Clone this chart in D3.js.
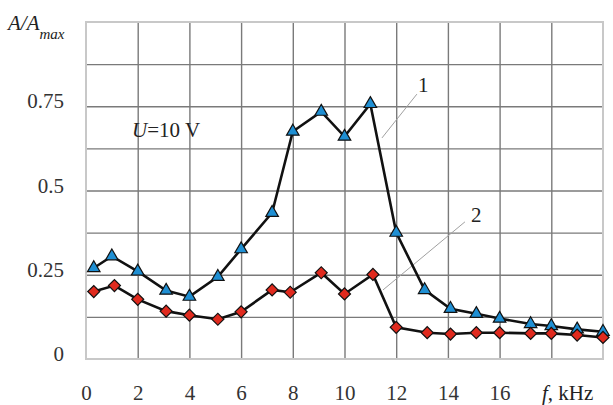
<!DOCTYPE html>
<html>
<head>
<meta charset="utf-8">
<script src="https://cdn.jsdelivr.net/npm/d3@7"></script>
<style>
  body { margin: 0; background: #fff; }
  svg { display: block; font-family: "Liberation Serif", "Times New Roman", serif; }
</style>
</head>
<body>
<svg></svg>
<script>
let w = 613;
let h = 405;

// Data
const freq1 = [0.3, 1, 2, 3.1, 4, 5.1, 6, 7.2, 8, 9.1, 10, 11, 12, 13.1, 14.1, 15.1, 16, 17.2, 18, 19, 20];
const amp1  = [0.27, 0.305, 0.26, 0.203, 0.185, 0.244, 0.326, 0.434, 0.675, 0.734, 0.66, 0.757, 0.375,
               0.205, 0.149, 0.134, 0.12, 0.104, 0.098, 0.088, 0.081];
const freq2 = [0.3, 1.1, 2, 3.1, 4, 5.1, 6, 7.2, 7.9, 9.1, 10, 11.1, 12, 13.2, 14.1, 15.1, 16, 17.2, 18, 19, 20];
const amp2  = [0.2, 0.218, 0.177, 0.142, 0.13, 0.118, 0.14, 0.205, 0.198, 0.256, 0.193, 0.251, 0.094,
               0.078, 0.074, 0.078, 0.078, 0.076, 0.076, 0.071, 0.064];

const xTicks = [0, 2, 4, 6, 8, 10, 12, 14, 16];
const yTicks = [0, 0.25, 0.5, 0.75];
const xGrid = d3.range(0, 21, 2);
const yGrid = d3.range(0, 1.0001, 0.125);

const svg = d3.select('svg')
  .attr('width', w)
  .attr('height', h)

// Scales
const xScale = d3.scaleLinear().domain([0, 20]).range([86, 603])
const yScale = d3.scaleLinear().domain([0, 1]).range([359, 22])

// Grid
svg.append('g')
  .attr('transform', 'translate(0,359)')
  .call(d3.axisBottom(xScale).tickValues(xGrid.slice(1, -1)).tickSize(-337).tickFormat(''))
  .call(g => g.select('.domain').remove())
  .selectAll('line').attr('stroke', '#7a7a7a').attr('stroke-width', 1.4)

svg.append('g')
  .attr('transform', 'translate(86,0)')
  .call(d3.axisLeft(yScale).tickValues(yGrid.slice(1, -1)).tickSize(-517).tickFormat(''))
  .call(g => g.select('.domain').remove())
  .selectAll('line').attr('stroke', '#7a7a7a').attr('stroke-width', 1.4)

svg.append('rect')
  .attr('x', xScale(0)).attr('y', yScale(1))
  .attr('width', xScale(20) - xScale(0)).attr('height', yScale(0) - yScale(1))
  .attr('fill', 'none').attr('stroke', '#c8c8c8').attr('stroke-width', 2)

// Tick labels
const xAxis = svg.append('g')
  .attr('transform', 'translate(0,400)')
  .call(d3.axisBottom(xScale).tickValues(xTicks).tickSize(0).tickPadding(0).tickFormat(d3.format('d')))
  .attr('font-family', '"Liberation Serif", serif')
  .attr('font-size', 21)
xAxis.select('.domain').remove()
xAxis.selectAll('text')
  .attr('dy', 0).attr('y', 0)
  .attr('fill', '#333')

const yAxis = svg.append('g')
  .attr('transform', 'translate(64,0)')
  .call(d3.axisLeft(yScale).tickValues(yTicks).tickSize(0).tickPadding(0)
    .tickFormat(d => d === 0 ? '0' : String(d)))
  .attr('font-family', '"Liberation Serif", serif')
  .attr('font-size', 21)
yAxis.select('.domain').remove()
yAxis.selectAll('text')
  .attr('dy', '0.32em').attr('y', -5)
  .attr('fill', '#333')

// Axis titles
const yTitle = svg.append('text').attr('x', 8).attr('y', 30)
  .attr('font-size', 21).attr('font-style', 'italic').attr('fill', '#222')
yTitle.append('tspan').text('A/A')
yTitle.append('tspan').attr('dy', 9).attr('font-size', 15).text('max')

const xTitle = svg.append('text').attr('x', 542).attr('y', 400)
  .attr('font-size', 21).attr('fill', '#222')
xTitle.append('tspan').attr('font-style', 'italic').text('f')
xTitle.append('tspan').text(', kHz')

const uText = svg.append('text').attr('x', xScale(1.78)).attr('y', yScale(0.659))
  .attr('font-size', 21).attr('fill', '#222')
uText.append('tspan').attr('font-style', 'italic').text('U')
uText.append('tspan').text('=10 V')

// Leader lines and curve labels
svg.append('line')
  .attr('x1', xScale(12.8)).attr('y1', yScale(0.786))
  .attr('x2', xScale(11.45)).attr('y2', yScale(0.656))
  .attr('stroke', '#a0a0a0').attr('stroke-width', 1)
svg.append('text').attr('x', xScale(13.05)).attr('y', yScale(0.813)).attr('dy', '0.35em')
  .attr('text-anchor', 'middle').attr('font-size', 21).attr('fill', '#222').text('1')

svg.append('line')
  .attr('x1', xScale(14.66)).attr('y1', yScale(0.407))
  .attr('x2', xScale(11.49)).attr('y2', yScale(0.205))
  .attr('stroke', '#a0a0a0').attr('stroke-width', 1)
svg.append('text').attr('x', xScale(15.1)).attr('y', yScale(0.427)).attr('dy', '0.35em')
  .attr('text-anchor', 'middle').attr('font-size', 21).attr('fill', '#222').text('2')

// Curves
const series1 = freq1.map((f, i) => [f, amp1[i]])
const series2 = freq2.map((f, i) => [f, amp2[i]])

const line = d3.line().x(d => xScale(d[0])).y(d => yScale(d[1]))

svg.append('path').datum(series1)
  .attr('d', line).attr('fill', 'none').attr('stroke', '#111').attr('stroke-width', 2.6)
svg.append('path').datum(series2)
  .attr('d', line).attr('fill', 'none').attr('stroke', '#111').attr('stroke-width', 2.6)

svg.selectAll('.tri')
  .data(series1)
  .enter()
  .append('path')
  .attr('class', 'tri')
  .attr('d', d3.symbol(d3.symbolTriangle, 68))
  .attr('transform', d => 'translate(' + xScale(d[0]) + ',' + yScale(d[1]) + ')')
  .attr('fill', '#1f8fd3')
  .attr('stroke', '#111').attr('stroke-width', 1.2)

svg.selectAll('.dia')
  .data(series2)
  .enter()
  .append('path')
  .attr('class', 'dia')
  .attr('d', d3.symbol(d3.symbolSquare, 72))
  .attr('transform', d => 'translate(' + xScale(d[0]) + ',' + yScale(d[1]) + ') rotate(45)')
  .attr('fill', '#e02a1e')
  .attr('stroke', '#111').attr('stroke-width', 1.2)
</script>
</body>
</html>
